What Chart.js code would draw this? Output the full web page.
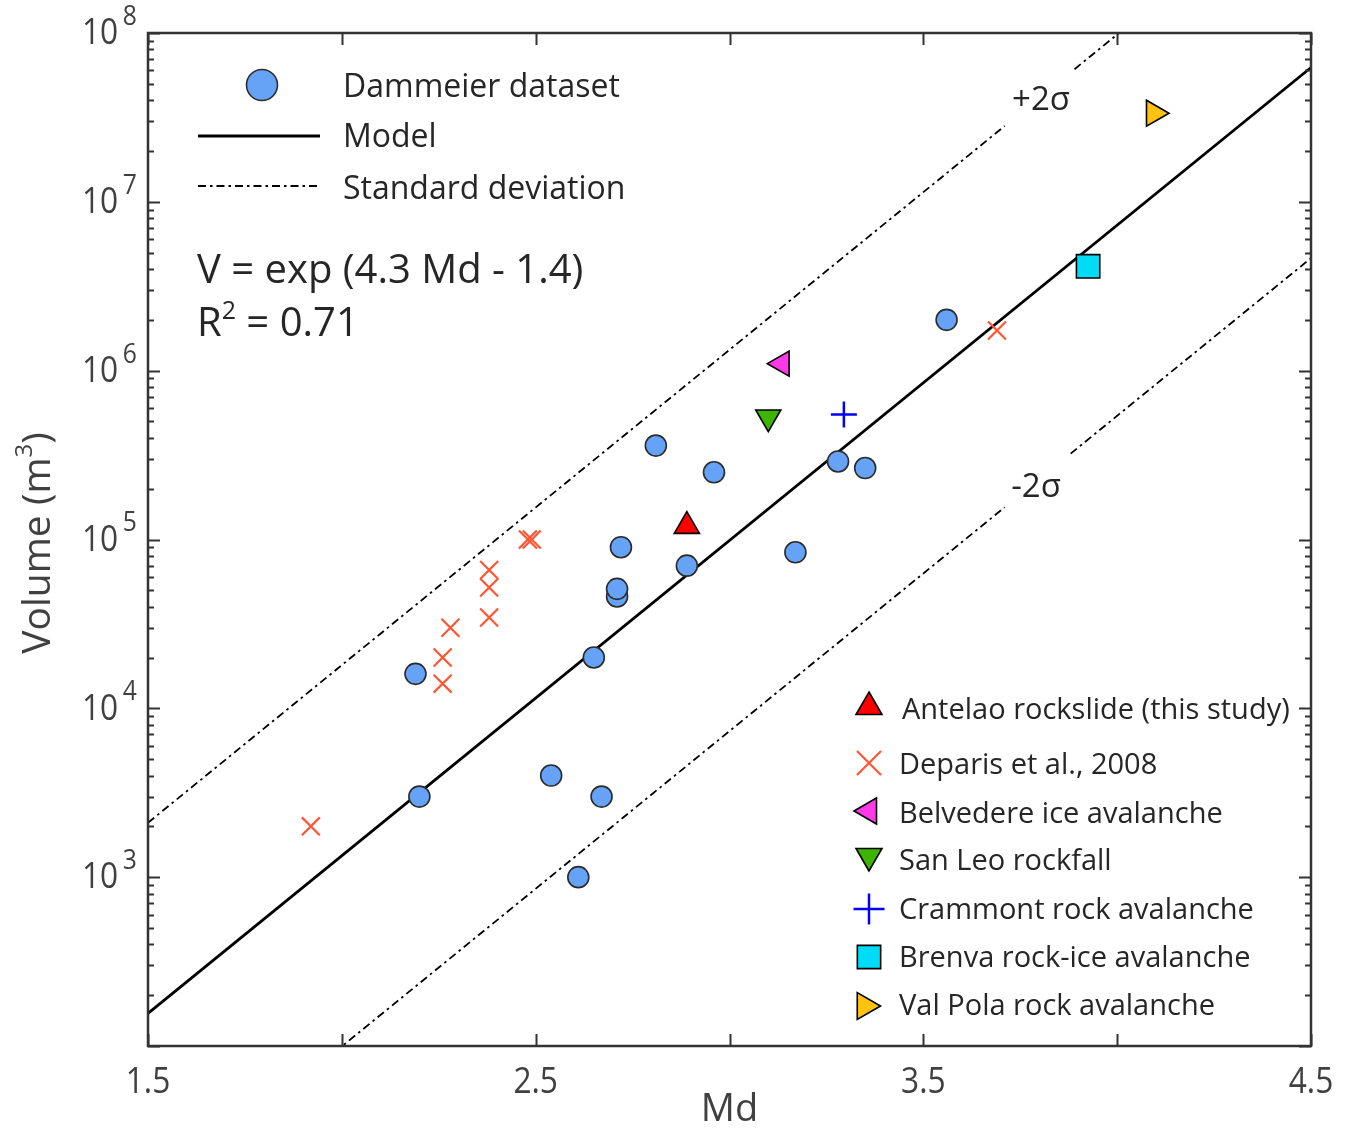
<!DOCTYPE html>
<html>
<head>
<meta charset="utf-8">
<title>Md vs Volume</title>
<script src="https://cdn.jsdelivr.net/npm/chart.js@4.4.1/dist/chart.umd.min.js"></script>
<style>
  html, body { margin: 0; padding: 0; background: #fff; }
  #wrap { width: 1363px; height: 1129px; position: relative; }
</style>
</head>
<body>
<div id="wrap"><canvas id="chart"></canvas></div>
<script>
// Dammeier dataset
const dammeierMd  = [2.19, 2.20, 2.54, 2.61, 2.67, 2.65, 2.71, 2.71, 2.72, 2.81, 2.89, 2.96, 3.17, 3.28, 3.35, 3.56];
const dammeierVol = [16000, 3000, 4000, 1000, 3000, 20000, 46000, 51000, 90000, 360000, 70000, 250000, 84000, 290000, 265000, 2000000];

// Deparis et al., 2008
const deparisMd  = [1.92, 2.26, 2.26, 2.28, 2.38, 2.38, 2.38, 2.48, 2.49, 3.69];
const deparisVol = [2000, 14000, 20000, 30000, 34500, 52000, 66000, 100000, 100000, 1730000];

// single events
const antelao   = { md: 2.89, vol: 120000 };
const belvedere = { md: 3.135, vol: 1100000 };
const sanLeo    = { md: 3.10, vol: 530000 };
const crammont  = { md: 3.295, vol: 550000 };
const brenva    = { md: 3.925, vol: 4150000 };
const valPola   = { md: 4.095, vol: 33500000 };

// fitted model V = exp(4.3 Md - 1.4), band of +/- 2 sigma (natural log units)
const modelSlope = 4.3;
const modelIntercept = -1.4;
const twoSigma = 2.6;
const modelMd = [1.5, 4.5];
// dash-dot lines are broken where the +2σ / -2σ labels sit
const upperSegments = [[1.5, 3.71], [3.89, 4.5]];
const lowerSegments = [[1.5, 3.71], [3.88, 4.5]];

// axes
const xTickValues = [1.5, 2.0, 2.5, 3.0, 3.5, 4.0, 4.5];
const xTickLabels = ['1.5', '', '2.5', '', '3.5', '', '4.5'];
const yDecades = [2, 3, 4, 5, 6, 7, 8];
const yLabelExps = [3, 4, 5, 6, 7, 8];

const FONT = '"Open Sans", "Noto Sans", sans-serif';
const BLUE = '#66a3f7';
const EDGE = '#2b2b2b';

const pts = (xs, ys) => xs.map((x, i) => ({ x: x, y: ys[i] }));
const modelV = (md, k) => Math.exp(modelSlope * md + modelIntercept + k * twoSigma);
const segLine = (seg, k) => seg.map(md => ({ x: md, y: modelV(md, k) }));

const dashDot = [8, 4, 2.5, 4];

function sigmaSet(seg, k) {
  return {
    type: 'line', data: segLine(seg, k), borderColor: '#000', borderWidth: 1.8,
    borderDash: dashDot, pointRadius: 0, order: 5, fill: false
  };
}

function single(ev, style, rot, fill, r) {
  return {
    data: [{ x: ev.md, y: ev.vol }], pointStyle: style, rotation: rot,
    pointRadius: r, pointBackgroundColor: fill, pointBorderColor: '#000',
    pointBorderWidth: 1.6, order: 1
  };
}

const datasets = [
  {
    data: pts(dammeierMd, dammeierVol), pointStyle: 'circle', pointRadius: 10.5,
    pointBackgroundColor: BLUE, pointBorderColor: EDGE, pointBorderWidth: 1.6, order: 2
  },
  {
    data: pts(deparisMd, deparisVol), pointStyle: 'crossRot', pointRadius: 12.7,
    pointBorderColor: '#ff5533', pointBorderWidth: 2.2, order: 2
  },
  single(antelao, 'triangle', 0, '#ff0000', 14.5),
  single(belvedere, 'triangle', -90, '#ff38e8', 14.5),
  single(sanLeo, 'triangle', 180, '#3cb400', 14.5),
  {
    data: [{ x: crammont.md, y: crammont.vol }], pointStyle: 'cross', pointRadius: 13,
    pointBorderColor: '#0000ff', pointBorderWidth: 2.5, order: 1
  },
  single(brenva, 'rect', 0, '#00dcf5', 16.5),
  single(valPola, 'triangle', 90, '#ffc20e', 15),
  {
    type: 'line', data: modelMd.map(md => ({ x: md, y: modelV(md, 0) })),
    borderColor: '#000', borderWidth: 2.8, pointRadius: 0, order: 5, fill: false
  },
  sigmaSet(upperSegments[0], 1), sigmaSet(upperSegments[1], 1),
  sigmaSet(lowerSegments[0], -1), sigmaSet(lowerSegments[1], -1)
];

function marker(ctx, o, x, y) {
  ctx.save();
  ctx.fillStyle = o.fill || 'transparent';
  ctx.strokeStyle = o.stroke || '#000';
  ctx.lineWidth = o.bw;
  Chart.helpers.drawPoint(ctx, { pointStyle: o.style, rotation: o.rot || 0, radius: o.r, borderWidth: o.bw }, x, y);
  ctx.restore();
}

// text pieces drawn left to right, each with its own size and lift
function runs(ctx, parts, x, y) {
  let cx = x;
  parts.forEach(p => {
    ctx.font = p.size + 'px ' + FONT;
    ctx.fillText(p.t, cx, y - (p.lift || 0));
    cx += ctx.measureText(p.t).width + (p.gap || 0);
  });
}

// axis numbers use a slightly condensed face
const SQUEEZE = 0.88;
function narrow(ctx, x, y, draw) {
  ctx.save();
  ctx.translate(x, y);
  ctx.scale(SQUEEZE, 1);
  draw();
  ctx.restore();
}

const decor = {
  id: 'decor',
  afterDatasetsDraw(chart) {
    const { ctx, chartArea: a, scales: { x, y } } = chart;
    ctx.save();
    ctx.strokeStyle = '#333';
    ctx.lineWidth = 2;
    ctx.beginPath();
    // log ticks, inward on both sides
    yDecades.forEach(e => {
      for (let m = 1; m <= 9; m++) {
        const v = m * Math.pow(10, e);
        if (v > 1e8 * 1.0001) break;
        const py = Math.round(y.getPixelForValue(v)) + 0.5;
        const len = m === 1 ? 12 : 6;
        ctx.moveTo(a.left, py); ctx.lineTo(a.left + len, py);
        ctx.moveTo(a.right, py); ctx.lineTo(a.right - len, py);
      }
    });
    xTickValues.forEach(v => {
      const px = Math.round(x.getPixelForValue(v)) + 0.5;
      ctx.moveTo(px, a.bottom); ctx.lineTo(px, a.bottom - 12);
      ctx.moveTo(px, a.top); ctx.lineTo(px, a.top + 12);
    });
    ctx.stroke();
    ctx.lineWidth = 2.5;
    ctx.strokeRect(a.left, a.top, a.right - a.left, a.bottom - a.top);
    ctx.restore();
  },
  afterDraw(chart) {
    const { ctx, chartArea: a, scales: { x, y } } = chart;
    ctx.save();
    ctx.textBaseline = 'middle';

    // tick labels
    ctx.fillStyle = '#404040';
    xTickValues.forEach((v, i) => {
      if (!xTickLabels[i]) return;
      narrow(ctx, x.getPixelForValue(v), a.bottom + 37, () => {
        ctx.textAlign = 'center';
        ctx.font = '36px ' + FONT;
        ctx.fillText(xTickLabels[i], 0, 0);
      });
    });
    yLabelExps.forEach(e => {
      const py = y.getPixelForValue(Math.pow(10, e));
      narrow(ctx, 82, py + 1, () => {
        ctx.textAlign = 'left';
        runs(ctx, [{ t: '10', size: 36, gap: 5 }, { t: String(e), size: 28, lift: 17 }], 0, 0);
      });
    });

    // axis titles
    ctx.fillStyle = '#404040';
    ctx.textAlign = 'center';
    ctx.font = '38px ' + FONT;
    ctx.fillText('Md', (a.left + a.right) / 2, 1110);
    ctx.save();
    ctx.translate(39, 543);
    ctx.rotate(-Math.PI / 2);
    ctx.textAlign = 'left';
    ctx.font = '39px ' + FONT;
    const tw = ctx.measureText('Volume (m').width;
    const pw = ctx.measureText(')').width;
    ctx.font = '24px ' + FONT;
    const sw = ctx.measureText('3').width;
    const total = tw + sw + pw;
    runs(ctx, [{ t: 'Volume (m', size: 39 }, { t: '3', size: 24, lift: 14 }, { t: ')', size: 39 }], -total / 2, 0);
    ctx.restore();

    // upper-left legend
    ctx.fillStyle = '#262626';
    ctx.textAlign = 'left';
    marker(ctx, { style: 'circle', r: 15.5, bw: 1.6, fill: BLUE, stroke: EDGE }, 262, 85);
    ctx.strokeStyle = '#000';
    ctx.lineWidth = 3;
    ctx.beginPath(); ctx.moveTo(198, 136); ctx.lineTo(320, 136); ctx.stroke();
    ctx.lineWidth = 1.8;
    ctx.setLineDash(dashDot);
    ctx.beginPath(); ctx.moveTo(198, 186); ctx.lineTo(320, 186); ctx.stroke();
    ctx.setLineDash([]);
    ctx.font = '32px ' + FONT;
    ctx.fillText('Dammeier dataset', 343, 88);
    ctx.fillText('Model', 343, 138);
    ctx.fillText('Standard deviation', 343, 190);

    // fitted relation
    runs(ctx, [{ t: 'V = exp (4.3 Md - 1.4)', size: 40 }], 197, 272);
    runs(ctx, [{ t: 'R', size: 40 }, { t: '2', size: 25, lift: 13 }, { t: ' = 0.71', size: 40 }], 197, 325);

    // band labels
    ctx.font = '33px ' + FONT;
    ctx.textAlign = 'center';
    ctx.fillText('+2\u03c3', 1041, 101);
    ctx.fillText('-2\u03c3', 1036, 488);

    // lower-right legend
    const rows = [
      { y: 711, label: 'Antelao rockslide (this study)', tx: 902, m: { style: 'triangle', r: 15, bw: 1.6, fill: '#ff0000' }, my: 707 },
      { y: 766, label: 'Deparis et al., 2008', m: { style: 'crossRot', r: 17, bw: 2.2, stroke: '#ff5533' }, my: 763 },
      { y: 815, label: 'Belvedere ice avalanche', m: { style: 'triangle', rot: -90, r: 15, bw: 1.6, fill: '#ff38e8' }, my: 811 },
      { y: 862, label: 'San Leo rockfall', m: { style: 'triangle', rot: 180, r: 15, bw: 1.6, fill: '#3cb400' }, my: 856 },
      { y: 911, label: 'Crammont rock avalanche', m: { style: 'cross', r: 15.5, bw: 2.5, stroke: '#0000ff' }, my: 909 },
      { y: 959, label: 'Brenva rock-ice avalanche', m: { style: 'rect', r: 16.5, bw: 1.6, fill: '#00dcf5' }, my: 957 },
      { y: 1007, label: 'Val Pola rock avalanche', m: { style: 'triangle', rot: 90, r: 15.5, bw: 1.6, fill: '#ffc20e' }, my: 1006 }
    ];
    ctx.textAlign = 'left';
    rows.forEach(r => {
      marker(ctx, r.m, r.m.rot === 90 ? 865 : 869, r.my);
      ctx.fillStyle = '#262626';
      ctx.font = '29px ' + FONT;
      ctx.fillText(r.label, r.tx || 899, r.y);
    });
    ctx.restore();
  }
};

new Chart(document.getElementById('chart').getContext('2d'), {
  type: 'scatter',
  data: { datasets: datasets },
  options: {
    responsive: true,
    maintainAspectRatio: false,
    animation: false,
    events: [],
    layout: { padding: { top: 33, right: 52, left: 0, bottom: 0 } },
    plugins: { legend: { display: false }, tooltip: { enabled: false } },
    scales: {
      x: {
        type: 'linear', min: 1.5, max: 4.5,
        grid: { display: false }, border: { display: false }, ticks: { display: false },
        afterFit: s => { s.height = 83; }
      },
      y: {
        type: 'logarithmic', min: 100, max: 1e8,
        grid: { display: false }, border: { display: false }, ticks: { display: false },
        afterFit: s => { s.width = 148; }
      }
    }
  },
  plugins: [decor]
});
</script>
</body>
</html>
